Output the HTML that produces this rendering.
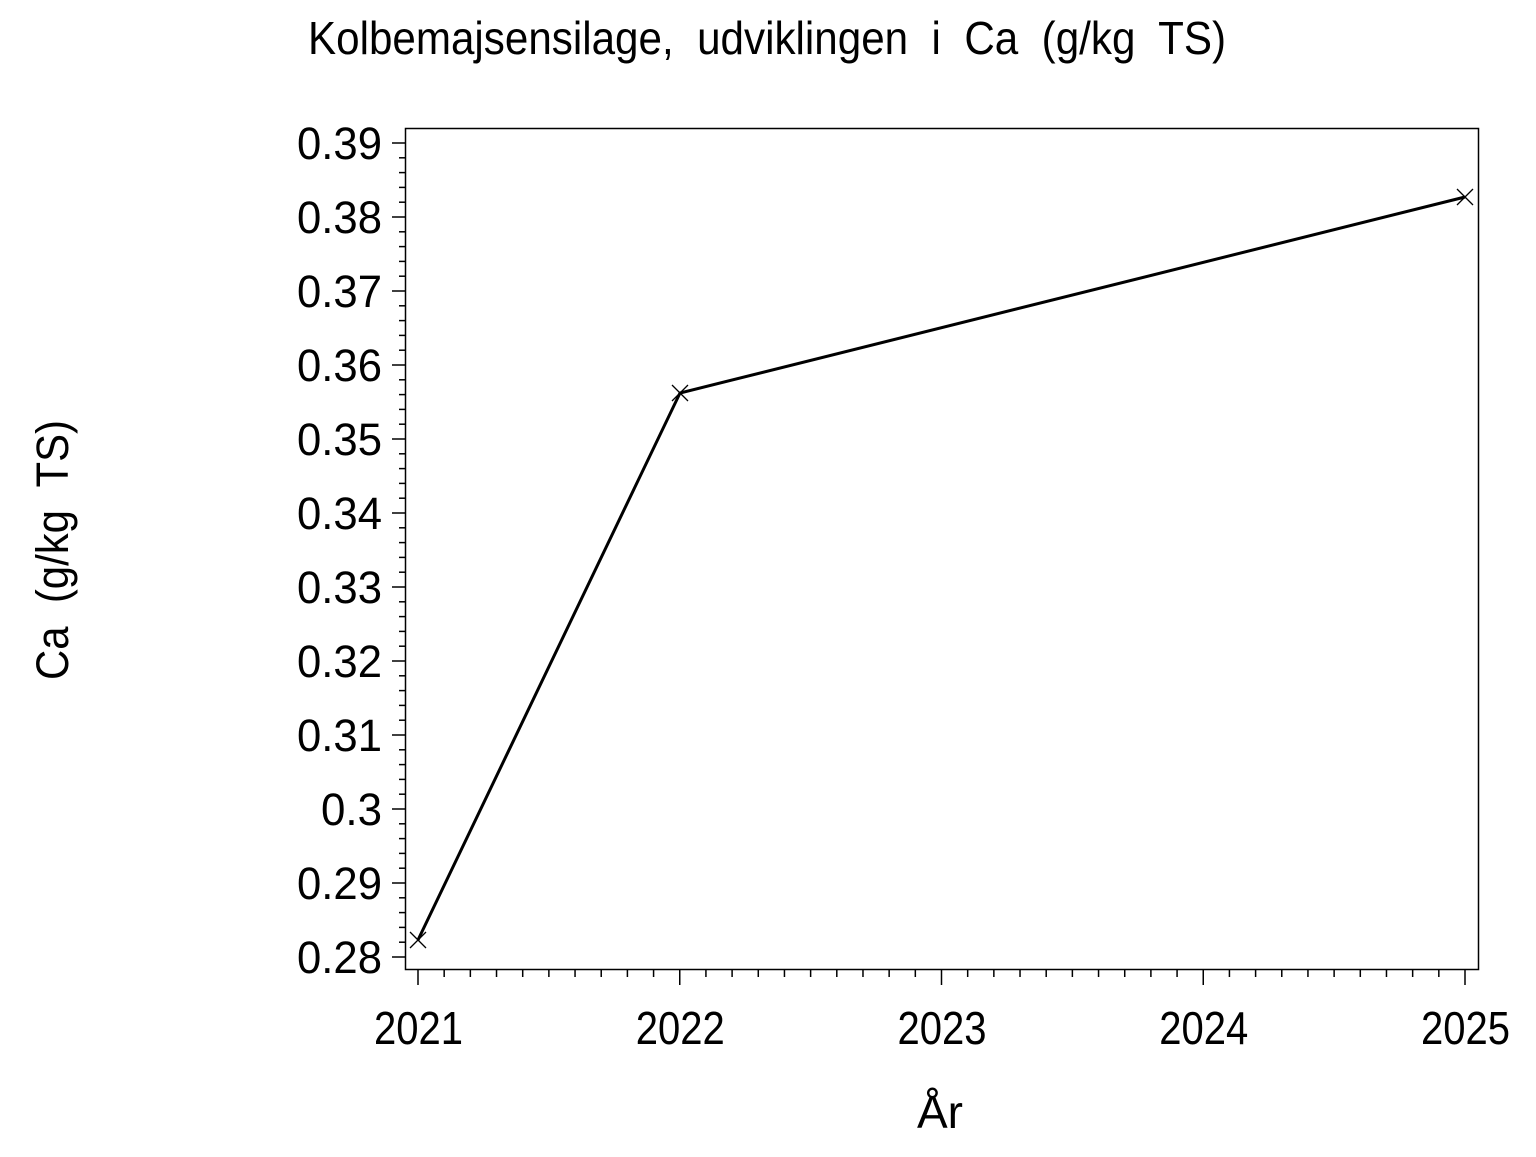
<!DOCTYPE html>
<html><head><style>body{margin:0;background:#fff}text{white-space:pre}</style></head><body>
<svg width="1536" height="1152" xmlns="http://www.w3.org/2000/svg" font-family="Liberation Sans, Arial, sans-serif">
<rect width="1536" height="1152" fill="#fff"/>
<text x="308" y="54" font-size="46" textLength="918" lengthAdjust="spacingAndGlyphs" xml:space="preserve">Kolbemajsensilage,  udviklingen  i  Ca  (g/kg  TS)</text>
<rect x="405.5" y="128.5" width="1073" height="841" fill="none" stroke="#000" stroke-width="1.5"/>
<g id="yt" stroke="#000" stroke-width="1.5"></g>
<g id="xt" stroke="#000" stroke-width="1.5"></g>
<g font-size="45" id="yl"></g>
<g font-size="46" id="xl"></g>
<polyline points="418,940 680,393 1465,197" fill="none" stroke="#000" stroke-width="3"/>
<g stroke="#000" stroke-width="1.3">
<path d="M410,932L426,948M410,948L426,932"/>
<path d="M672,385L688,401M672,401L688,385"/>
<path d="M1457,189L1473,205M1457,205L1473,189"/>
</g>
<text x="940" y="1128" font-size="46" text-anchor="middle">År</text>
<text transform="translate(68,680) rotate(-90)" font-size="45" textLength="260" lengthAdjust="spacingAndGlyphs" xml:space="preserve">Ca  (g/kg  TS)</text>
<script>
var ns="http://www.w3.org/2000/svg",yt=document.getElementById('yt'),xt=document.getElementById('xt'),yl=document.getElementById('yl'),xl=document.getElementById('xl');
function ln(g,a,b,c,d){var l=document.createElementNS(ns,'line');l.setAttribute('x1',a);l.setAttribute('y1',b);l.setAttribute('x2',c);l.setAttribute('y2',d);g.appendChild(l);}
function tx(g,x,y,s,w){var t=document.createElementNS(ns,'text');t.setAttribute('x',x);t.setAttribute('y',y);t.setAttribute('textLength',w);t.setAttribute('lengthAdjust','spacingAndGlyphs');t.textContent=s;g.appendChild(t);}
var labs=['0.28','0.29','0.3','0.31','0.32','0.33','0.34','0.35','0.36','0.37','0.38','0.39'];
for(var i=0;i<=55;i++){var y=957-i*74/5;if(y<129)break;var maj=i%5==0;ln(yt,maj?392:399,y,405,y);if(maj){var s=labs[i/5];var w=s.length==3?61:85;tx(yl,382-w,y+16,s,w);}}
for(var i=0;i<=40;i++){var x=418+i*261.75/10;var maj=i%10==0;ln(xt,x,970,x,maj?985:977);if(maj)tx(xl,x-44,1044,String(2021+i/10),89);}
</script>
</svg>
</body></html>
